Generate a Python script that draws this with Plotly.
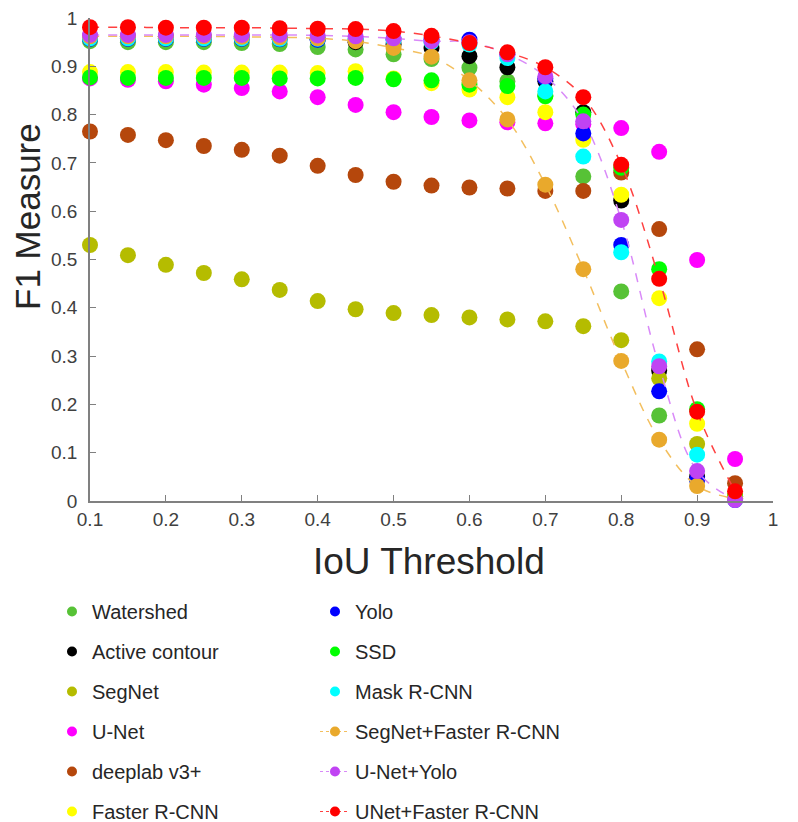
import plotly.graph_objects as go

iou = [0.10, 0.15, 0.20, 0.25, 0.30, 0.35, 0.40, 0.45, 0.50, 0.55,
       0.60, 0.65, 0.70, 0.75, 0.80, 0.85, 0.90, 0.95]

watershed = [0.952, 0.950, 0.950, 0.950, 0.948, 0.946, 0.940, 0.935, 0.925, 0.915,
             0.897, 0.869, 0.840, 0.672, 0.434, 0.177, 0.045, 0.005]
active_contour = [0.962, 0.962, 0.962, 0.962, 0.961, 0.960, 0.956, 0.950, 0.945, 0.938,
                  0.921, 0.898, 0.869, 0.805, 0.622, 0.270, 0.050, 0.005]
segnet = [0.530, 0.509, 0.489, 0.472, 0.459, 0.437, 0.414, 0.397, 0.389, 0.385,
          0.380, 0.376, 0.372, 0.362, 0.333, 0.254, 0.118, 0.010]
unet = [0.875, 0.872, 0.869, 0.862, 0.855, 0.848, 0.836, 0.820, 0.805, 0.795,
        0.788, 0.784, 0.782, 0.780, 0.772, 0.723, 0.499, 0.087]
deeplab = [0.765, 0.758, 0.747, 0.735, 0.727, 0.715, 0.694, 0.675, 0.661, 0.653,
           0.649, 0.647, 0.642, 0.642, 0.680, 0.563, 0.314, 0.037]
faster_rcnn = [0.888, 0.888, 0.888, 0.887, 0.887, 0.887, 0.886, 0.890, 0.875, 0.865,
               0.852, 0.836, 0.805, 0.748, 0.634, 0.420, 0.160, 0.010]
yolo = [0.957, 0.957, 0.957, 0.957, 0.957, 0.956, 0.955, 0.955, 0.955, 0.955,
        0.955, 0.925, 0.875, 0.761, 0.530, 0.227, 0.044, 0.002]
ssd = [0.877, 0.876, 0.876, 0.876, 0.876, 0.875, 0.875, 0.876, 0.873, 0.871,
       0.862, 0.859, 0.838, 0.800, 0.690, 0.480, 0.190, 0.010]
mask_rcnn = [0.958, 0.958, 0.958, 0.958, 0.958, 0.957, 0.957, 0.956, 0.955, 0.950,
             0.945, 0.917, 0.848, 0.713, 0.515, 0.289, 0.096, 0.003]
segnet_faster = [0.962, 0.962, 0.962, 0.962, 0.961, 0.960, 0.958, 0.952, 0.938, 0.920,
                 0.871, 0.790, 0.655, 0.480, 0.290, 0.127, 0.031, 0.005]
unet_yolo = [0.965, 0.965, 0.965, 0.965, 0.965, 0.965, 0.964, 0.962, 0.958, 0.952,
             0.950, 0.925, 0.879, 0.786, 0.582, 0.279, 0.062, 0.002]
unet_faster = [0.981, 0.981, 0.980, 0.980, 0.980, 0.979, 0.978, 0.977, 0.973, 0.963,
               0.948, 0.929, 0.898, 0.836, 0.696, 0.460, 0.185, 0.020]

x_ticks = [0.1, 0.2, 0.3, 0.4, 0.5, 0.6, 0.7, 0.8, 0.9, 1.0]
x_tick_labels = ["0.1", "0.2", "0.3", "0.4", "0.5", "0.6", "0.7", "0.8", "0.9", "1"]
y_ticks = [0, 0.1, 0.2, 0.3, 0.4, 0.5, 0.6, 0.7, 0.8, 0.9, 1.0]
y_tick_labels = ["0", "0.1", "0.2", "0.3", "0.4", "0.5", "0.6", "0.7", "0.8", "0.9", "1"]

# (name, values, marker colour, line colour or None, legend)
series = [
    ("Watershed", watershed, "#57c236", None, "legend"),
    ("Active contour", active_contour, "#000000", None, "legend"),
    ("SegNet", segnet, "#b5bc00", None, "legend"),
    ("U-Net", unet, "#ff00ff", None, "legend"),
    ("deeplab v3+", deeplab, "#b5470c", None, "legend"),
    ("Faster R-CNN", faster_rcnn, "#ffff00", None, "legend"),
    ("Yolo", yolo, "#0000ff", None, "legend2"),
    ("SSD", ssd, "#00ff00", None, "legend2"),
    ("Mask R-CNN", mask_rcnn, "#00ffff", None, "legend2"),
    ("SegNet+Faster R-CNN", segnet_faster, "#e9a92c", "#f3bf5e", "legend2"),
    ("U-Net+Yolo", unet_yolo, "#c043f3", "#d98af8", "legend2"),
    ("UNet+Faster R-CNN", unet_faster, "#ff0000", "#ff4040", "legend2"),
]

FONT = "Liberation Sans, Arial, sans-serif"

fig = go.Figure()
for name, vals, mcol, lcol, leg in series:
    mode = "markers" if lcol is None else "lines+markers"
    line = None if lcol is None else dict(color=lcol, width=1.5, dash="dash", shape="spline")
    # data trace
    fig.add_trace(go.Scatter(
        x=iou, y=vals, name=name, mode=mode,
        marker=dict(color=mcol, size=16, line=dict(width=0)),
        line=line, showlegend=False, legendgroup=name, cliponaxis=False))
    # legend entry (smaller symbol, like the reference key)
    fig.add_trace(go.Scatter(
        x=[None], y=[None], name=name, mode=mode,
        marker=dict(color=mcol, size=10, line=dict(width=0)),
        line=dict(color=lcol, width=1.2, dash="dot") if lcol else None,
        legend=leg, legendgroup=name, showlegend=True))

legend_common = dict(
    font=dict(family=FONT, size=20, color="#262626"),
    bgcolor="rgba(0,0,0,0)", borderwidth=0,
    traceorder="grouped", tracegroupgap=11,
    xref="container", yref="container",
    xanchor="left", yanchor="top",
)

fig.update_layout(
    width=798, height=822,
    paper_bgcolor="white", plot_bgcolor="white",
    margin=dict(l=82, r=33, t=10, b=329, autoexpand=False),
    font=dict(family=FONT, color="#404040"),
    showlegend=True,
    legend=dict(x=44 / 798, y=1 - 584 / 822, **legend_common),
    legend2=dict(x=307 / 798, y=1 - 584 / 822, **legend_common),
    xaxis=dict(
        range=[0.1, 1.0], tickvals=x_ticks, ticktext=x_tick_labels,
        ticks="inside", ticklen=6, tickcolor="#808080", tickwidth=1.2,
        showline=True, linecolor="#808080", linewidth=1.5,
        showgrid=False, zeroline=False, mirror=False, automargin=False,
        ticklabeloverflow="allow", ticklabelstandoff=0,
        tickfont=dict(family=FONT, size=19, color="#404040"),
    ),
    yaxis=dict(
        range=[0, 1.0], tickvals=y_ticks, ticktext=y_tick_labels,
        ticks="inside", ticklen=6, tickcolor="#808080", tickwidth=1.2,
        showline=True, linecolor="#808080", linewidth=1.5,
        showgrid=False, zeroline=False, mirror=False, automargin=False,
        ticklabeloverflow="allow", ticklabelstandoff=7,
        tickfont=dict(family=FONT, size=19, color="#404040"),
    ),
    annotations=[
        dict(text="IoU Threshold", xref="paper", yref="paper",
             x=(421 - 82) / 683, y=(493 - 553) / 483, xanchor="center", yanchor="middle",
             showarrow=False, font=dict(family=FONT, size=37, color="#262626")),
        dict(text="F1 Measure", xref="paper", yref="paper",
             x=(19 - 82) / 683, y=(493 - 209) / 483, xanchor="center", yanchor="middle",
             textangle=-90, showarrow=False,
             font=dict(family=FONT, size=35, color="#262626")),
    ],
)

fig.write_html("out.html")
